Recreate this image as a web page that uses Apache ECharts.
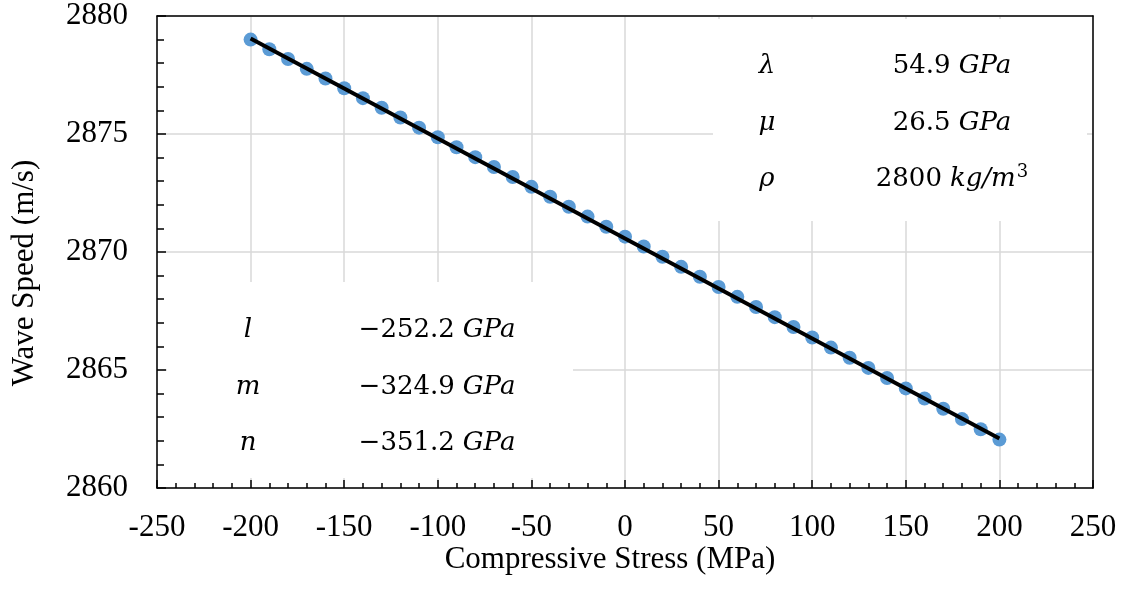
<!DOCTYPE html>
<html>
<head>
<meta charset="utf-8">
<script src="https://cdn.jsdelivr.net/npm/echarts@6/dist/echarts.min.js"></script>
<style>
  html, body { margin: 0; padding: 0; background: #fff; }
  #chart { width: 1124px; height: 594px; }
</style>
</head>
<body>
<div id="chart"></div>
<script>
// stress values (MPa)
const stress = [-200, -190, -180, -170, -160, -150, -140, -130, -120, -110, -100,
  -90, -80, -70, -60, -50, -40, -30, -20, -10, 0,
  10, 20, 30, 40, 50, 60, 70, 80, 90, 100,
  110, 120, 130, 140, 150, 160, 170, 180, 190, 200];
// wave speed (m/s)
const speed = [2879.0, 2878.59, 2878.18, 2877.76, 2877.35, 2876.94, 2876.52, 2876.11, 2875.70, 2875.27, 2874.86,
  2874.44, 2874.02, 2873.60, 2873.18, 2872.76, 2872.34, 2871.92, 2871.50, 2871.07, 2870.65,
  2870.23, 2869.80, 2869.37, 2868.95, 2868.52, 2868.10, 2867.67, 2867.24, 2866.82, 2866.38,
  2865.95, 2865.52, 2865.09, 2864.66, 2864.22, 2863.79, 2863.36, 2862.92, 2862.49, 2862.05];
// linear trendline ends
const trendX = [-200, 200];
const trendY = [2879.05, 2862.1];

// parameter tables
const topSymbols = ["λ", "μ", "ρ"];
const topValues = ["54.9", "26.5", "2800"];
const topUnits = ["GPa", "GPa", "kg/m"];
const topPowers = ["", "", "3"];
const botSymbols = ["l", "m", "n"];
const botValues = ["−252.2", "−324.9", "−351.2"];
const botUnits = ["GPa", "GPa", "GPa"];
const botPowers = ["", "", ""];

const serif = "'Liberation Serif', 'Times New Roman', serif";
const mathFont = "'DejaVu Serif', serif";

const chart = echarts.init(document.getElementById("chart"));

// table text
function tableText(symbols, values, units, powers, symX, valX, rowY) {
  let out = [];
  for (let i = 0; i < symbols.length; i++) {
    out.push({
      type: "text", z: 3, x: symX, y: rowY[i],
      style: {
        text: symbols[i], font: "italic 26px " + mathFont, fill: "#000",
        align: "center", verticalAlign: "middle"
      }
    });
    let txt = "{v|" + values[i] + "}{u|" + units[i] + "}";
    if (powers[i]) txt += "{s|" + powers[i] + "}";
    out.push({
      type: "text", z: 3, x: valX, y: rowY[i],
      style: {
        text: txt,
        align: "center", verticalAlign: "middle",
        rich: {
          v: { fontFamily: mathFont, fontSize: 26, lineHeight: 32, fill: "#000", padding: [0, 8, 0, 0] },
          u: { fontFamily: mathFont, fontSize: 26, lineHeight: 32, fontStyle: "italic", fill: "#000" },
          s: { fontFamily: mathFont, fontSize: 18, lineHeight: 18, verticalAlign: "top", fill: "#000", padding: [0, 0, 0, 1] }
        }
      }
    });
  }
  return out;
}

const axisFont = { fontFamily: serif, fontSize: 31, color: "#000" };
const plain = (v) => String(v);

const option = {
  animation: false,
  grid: { left: 157, right: 31, top: 16, bottom: 106 },
  xAxis: [
    {
      type: "value", min: -250, max: 250, interval: 50,
      axisLine: { onZero: false, lineStyle: { color: "#000", width: 1.5 } },
      axisTick: { inside: true, length: 8, lineStyle: { color: "#000", width: 1.5 } },
      minorTick: { show: true, splitNumber: 5, length: 5, lineStyle: { color: "#000", width: 1.5 } },
      splitLine: { show: true, lineStyle: { color: "#d9d9d9", width: 1.5 } },
      axisLabel: Object.assign({ margin: 24, formatter: plain }, axisFont)
    },
    {
      // top border
      type: "value", position: "top", min: -250, max: 250,
      axisLine: { onZero: false, lineStyle: { color: "#000", width: 1.5 } },
      axisTick: { show: false }, axisLabel: { show: false }, splitLine: { show: false }
    }
  ],
  yAxis: [
    {
      type: "value", min: 2860, max: 2880, interval: 5,
      axisLine: { show: true, onZero: false, lineStyle: { color: "#000", width: 1.5 } },
      axisTick: { show: true, inside: true, length: 9, lineStyle: { color: "#000", width: 1.5 } },
      minorTick: { show: true, splitNumber: 5, length: 7, lineStyle: { color: "#000", width: 1.5 } },
      splitLine: { show: true, lineStyle: { color: "#d9d9d9", width: 1.5 } },
      axisLabel: Object.assign({ margin: 29, formatter: plain }, axisFont)
    },
    {
      // right border
      type: "value", position: "right", min: 2860, max: 2880,
      axisLine: { show: true, onZero: false, lineStyle: { color: "#000", width: 1.5 } },
      axisTick: { show: false }, axisLabel: { show: false }, splitLine: { show: false }
    }
  ],
  series: [
    {
      type: "scatter", z: 3,
      data: stress.map((x, i) => [x, speed[i]]),
      symbolSize: 14,
      itemStyle: { color: "#5b9bd5", opacity: 1 }
    },
    {
      type: "line", z: 4,
      data: trendX.map((x, i) => [x, trendY[i]]),
      showSymbol: false, symbol: "none",
      lineStyle: { color: "#000", width: 4 }
    }
  ],
  graphic: [
    // white boxes behind the tables
    { type: "rect", z: 1, shape: { x: 713, y: 19, width: 374, height: 202 }, style: { fill: "#fff" } },
    { type: "rect", z: 1, shape: { x: 167, y: 282, width: 406, height: 196 }, style: { fill: "#fff" } },
    {
      type: "text", x: 610, y: 560,
      style: { text: "Compressive Stress (MPa)", font: "31px " + serif, fill: "#000", align: "center", verticalAlign: "middle" }
    },
    {
      type: "text", x: 25, y: 273, rotation: Math.PI / 2,
      style: { text: "Wave Speed (m/s)", font: "31px " + serif, fill: "#000", align: "center", verticalAlign: "middle" }
    }
  ].concat(
    tableText(topSymbols, topValues, topUnits, topPowers, 767, 952, [66, 123, 179]),
    tableText(botSymbols, botValues, botUnits, botPowers, 248, 437, [330, 387, 443])
  )
};

chart.setOption(option);
</script>
</body>
</html>
